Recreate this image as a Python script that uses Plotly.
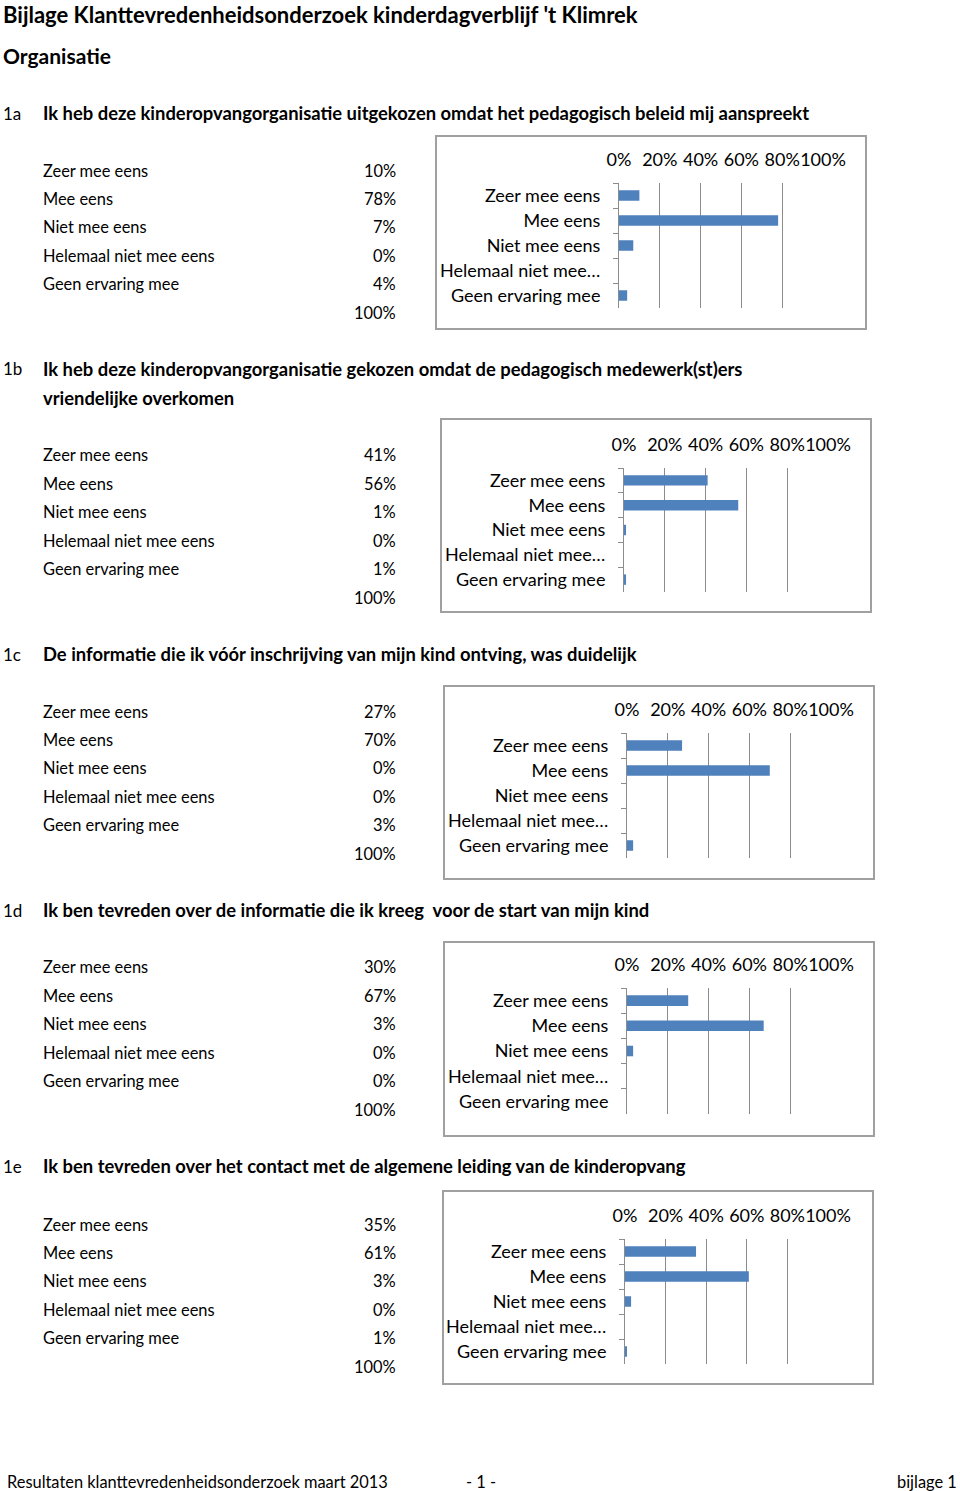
import plotly.graph_objects as go

W, H = 960, 1491
FONT = "Lato"

# ---- data ----
categories = ["Zeer mee eens", "Mee eens", "Niet mee eens", "Helemaal niet mee eens", "Geen ervaring mee"]
chart_labels = ["Zeer mee eens", "Mee eens", "Niet mee eens", "Helemaal niet mee…", "Geen ervaring mee"]
codes = ["1a", "1b", "1c", "1d", "1e"]
questions = [
    ["Ik heb deze kinderopvangorganisatie uitgekozen omdat het pedagogisch beleid mij aanspreekt"],
    ["Ik heb deze kinderopvangorganisatie gekozen omdat de pedagogisch medewerk(st)ers",
     "vriendelijke overkomen"],
    ["De informatie die ik vóór inschrijving van mijn kind ontving, was duidelijk"],
    ["Ik ben tevreden over de informatie die ik kreeg  voor de start van mijn kind"],
    ["Ik ben tevreden over het contact met de algemene leiding van de kinderopvang"],
]
values_1a = [10, 78, 7, 0, 4]
values_1b = [41, 56, 1, 0, 1]
values_1c = [27, 70, 0, 0, 3]
values_1d = [30, 67, 3, 0, 0]
values_1e = [35, 61, 3, 0, 1]
all_values = [values_1a, values_1b, values_1c, values_1d, values_1e]
totals = ["100%"] * 5
x_ticks = [0, 0.2, 0.4, 0.6, 0.8, 1.0]

# ---- layout geometry (pixels) ----
heading_y = [113, 369, 654, 910, 1166]
row_y0 = [170, 455, 711, 967, 1224]
row_step = 28.4
boxes = [  # (left, top, right, bottom)
    (436, 136, 866, 329),
    (441, 419, 871, 612),
    (444, 686, 874, 879),
    (444, 942, 874, 1136),
    (443, 1191, 873, 1384),
]
plots = [  # (x0, x100, ytop, ybottom)
    (619, 823, 183, 308),
    (624, 828, 468, 592),
    (627, 831, 733, 858),
    (627, 831, 988, 1114),
    (625, 828, 1239, 1364),
]

def px(x):
    return x / W

def py(y):
    return 1 - y / H

fig = go.Figure()
annotations = []
shapes = []

def txt(x, y, s, size=16, bold=False, anchor="left"):
    if anchor == "left":
        x -= 2
    elif anchor == "right":
        x += 2
    annotations.append(dict(
        x=px(x), y=py(y), xref="paper", yref="paper", text=f"<b>{s}</b>" if bold else s,
        showarrow=False, xanchor=anchor, yanchor="middle", align="left",
        font=dict(family=FONT, size=size, color="black")))

txt(3, 14, "Bijlage Klanttevredenheidsonderzoek kinderdagverblijf 't Klimrek", size=22, bold=True)
txt(3, 55, "Organisatie", size=21, bold=True)

for i in range(5):
    txt(3, heading_y[i], codes[i], size=17)
    for k, line in enumerate(questions[i]):
        txt(43, heading_y[i] + 28.5 * k, line, size=18.4, bold=True)
    for j, cat in enumerate(categories):
        yy = row_y0[i] + j * row_step
        txt(43, yy, cat, size=16.4)
        txt(396, yy, f"{all_values[i][j]}%", size=16.4, anchor="right")
    txt(396, row_y0[i] + 5 * row_step, totals[i], size=16.4, anchor="right")

    l, t, r, b = boxes[i]
    shapes.append(dict(type="rect", xref="paper", yref="paper",
                       x0=px(l), x1=px(r), y0=py(b), y1=py(t),
                       line=dict(color="#A0A0A0", width=2), fillcolor="rgba(0,0,0,0)"))

    x0, x100, yt, yb = plots[i]
    xa = "x" if i == 0 else f"x{i+1}"
    ya = "y" if i == 0 else f"y{i+1}"
    fig.add_trace(go.Bar(
        x=[v / 100 for v in all_values[i]], y=chart_labels, orientation="h",
        marker=dict(color="#4F81BD", line=dict(width=0)), width=0.42,
        xaxis=xa, yaxis=ya, showlegend=False, hoverinfo="skip"))
    xkey = "xaxis" if i == 0 else f"xaxis{i+1}"
    ykey = "yaxis" if i == 0 else f"yaxis{i+1}"
    fig.update_layout({
        xkey: dict(domain=[px(x0), px(x100)], anchor=ya, side="top", range=[0, 1],
                   tickvals=x_ticks, tickformat=".0%", showgrid=True, gridcolor="#8C8C8C",
                   gridwidth=1, zeroline=False, showline=False, ticks="",
                   tickangle=0, automargin=False,
                   tickfont=dict(family=FONT, size=18, color="black"),
                   ticklabelstandoff=12, fixedrange=True),
        ykey: dict(domain=[py(yb), py(yt)], anchor=xa, type="category",
                   categoryorder="array", categoryarray=chart_labels,
                   range=[4.5, -0.5], showline=True, linecolor="#8C8C8C", linewidth=1,
                   ticks="outside", tickson="boundaries", ticklen=5, tickcolor="#8C8C8C",
                   showgrid=False, automargin=False,
                   tickfont=dict(family=FONT, size=18, color="black"),
                   ticklabelstandoff=14, fixedrange=True),
    })

txt(7, 1481, "Resultaten klanttevredenheidsonderzoek maart 2013", size=16.4)
txt(481, 1481, "- 1 -", size=16.4, anchor="center")
txt(957, 1481, "bijlage 1", size=16.4, anchor="right")

fig.update_layout(width=W, height=H, margin=dict(l=0, r=0, t=0, b=0, pad=0, autoexpand=False),
                  paper_bgcolor="white", plot_bgcolor="white",
                  annotations=annotations, shapes=shapes, bargap=0.6)
fig.write_html("out.html")
